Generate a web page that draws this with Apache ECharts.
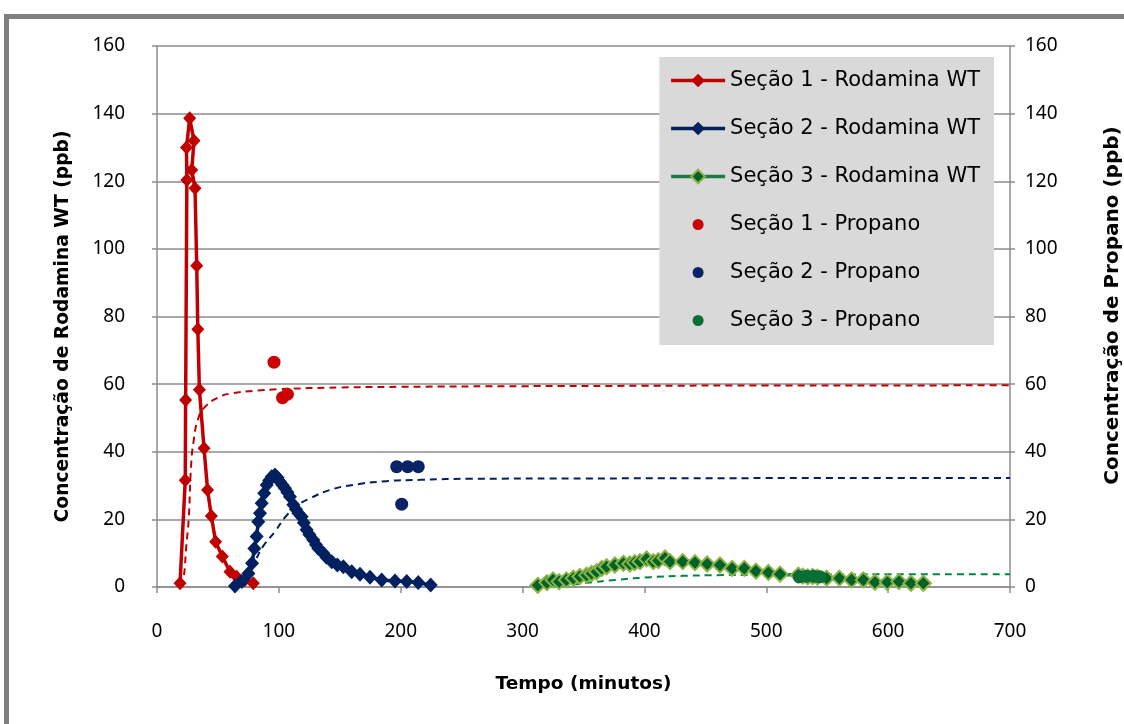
<!DOCTYPE html>
<html><head><meta charset="utf-8">
<script src="https://cdn.jsdelivr.net/npm/echarts@6/dist/echarts.min.js"></script>
<style>html,body{margin:0;padding:0;background:#fff}#c{width:1124px;height:724px}</style>
</head><body><div id="c"></div>
<script>
// Seção 1 - Rodamina WT [tempo (min), ppb]
const sec1Rod = [[18.9,1.1],[23.2,31.6],[23.5,55.3],[24.5,120.4],[24.2,130],[26.8,138.6],[30.4,132],[28.5,123.3],[31.2,117.9],[32.6,95],[33.5,76.2],[34.8,58.3],[38.6,41],[41.5,28.7],[44.6,21],[48.1,13.4],[53.6,9],[59.9,4.5],[65.4,3],[72,2],[79,1.1]];
// Seção 2 - Rodamina WT
const sec2Rod = [[64,0.3],[69.5,1.6],[75,4],[78,7],[79.9,11.4],[81.8,14.9],[83.1,19.3],[84.5,21.8],[85.9,24.8],[88,27.7],[90,30.2],[92,31.5],[94.1,32.6],[96.8,33.1],[99,32.3],[100.9,31.1],[103,30.2],[105,29.2],[107,28],[109.1,26.7],[111.9,24.3],[114,23],[116,21.8],[118.7,20.8],[120.5,19],[122.8,16.9],[125,15.5],[128.3,13.9],[130.5,12.5],[132.4,11.4],[136.5,10],[139,8.8],[143.4,7.5],[148,6.5],[152.9,6],[159.8,4.5],[166.6,3.8],[174.8,2.9],[184.4,2.1],[195.3,1.8],[204.9,1.6],[214.4,1.3],[224.6,0.6]];
// Seção 3 - Rodamina WT
const sec3Rod = [[312.5,0.5],[320,1.3],[325,2.1],[330,1.6],[336,2.1],[341.6,2.6],[347,3.1],[352.6,3.5],[356.7,4],[360.8,4.5],[365,5.5],[369,6],[375.8,6.5],[382.7,7],[388,6.8],[392,7.2],[396.4,7.5],[401.8,8.3],[407.3,7.5],[411.4,7.8],[416.9,8.6],[421,7.5],[431.4,7.5],[441.5,7.2],[451.5,6.8],[462,6.5],[472,5.5],[482,5.5],[491.5,4.7],[501.7,4.3],[511.3,3.8],[526.3,3.5],[530,3.2],[534,3],[538,3.1],[542,2.9],[549.5,2.6],[560,2.6],[570,2.1],[579.7,2.1],[589.2,1.4],[599.3,1.4],[608.9,1.6],[618.7,1.1],[628.9,1.1]];
// Propano
const sec1Prop = [[96,66.5],[103,56],[107,57]];
const sec2Prop = [[196.7,35.6],[200.8,24.5],[205.7,35.6],[214.4,35.6]];
const sec3Prop = [[527,3],[533,3.2],[539,3.2],[544,3]];
// Ajustes (linhas tracejadas)
const sec1Fit = [[20,0],[22,3],[24,12],[26,20],[28,36],[30,43],[34,50],[40,53.5],[50,56],[60,57.2],[80,58],[100,58.5],[150,59],[200,59.2],[300,59.4],[400,59.5],[500,59.6],[600,59.6],[700,59.7]];
const sec2Fit = [[64,0],[70,2.5],[75,5],[80,7.5],[87,12],[97,16.5],[106,21],[116,24.3],[126,26.3],[142,28.7],[161,30.2],[188,31.3],[216,31.7],[257,32],[350,32.1],[500,32.2],[700,32.2]];
const sec3Fit = [[312,0],[330,0.3],[350,1.1],[377,2.1],[405,2.9],[432,3.3],[460,3.5],[500,3.6],[550,3.7],[600,3.75],[700,3.8]];

const names = ['Seção 1 - Rodamina WT','Seção 2 - Rodamina WT','Seção 3 - Rodamina WT','Seção 1 - Propano','Seção 2 - Propano','Seção 3 - Propano'];
const xTicks = {min:0, max:700, interval:100};
const yTicks = {min:0, max:160, interval:20};

const FONT = 'Noto Sans';
const TFONT = 'DejaVu Sans';
const RED = '#C00000', BLUE = '#002060', GREEN = '#00612A', GREEN_B = '#8DB345', GREEN_L = '#1D7A45';
const DOT = 'path://M0,0M17,17M3,8.5a5.5,5.5 0 1,0 11,0a5.5,5.5 0 1,0 -11,0z';

const chart = echarts.init(document.getElementById('c'));
const gridLine = {show:true, lineStyle:{color:'#8C8C8C', width:1.5}};
const axLine = {show:true, lineStyle:{color:'#8C8C8C', width:1.5}};
chart.setOption({
  animation:false,
  textStyle:{fontFamily:FONT},
  graphic:[
    {type:'rect', shape:{x:6.5, y:16.5, width:1300, height:900}, style:{fill:null, stroke:'#7F7F7F', lineWidth:5}, z:-10},
    // legend icon decoration for "Seção 3 - Rodamina WT" (line + bordered diamond)
    {type:'group', z:10, children:[
      {type:'line', shape:{x1:670, y1:175.5, x2:723, y2:175.5}, style:{stroke:GREEN_L, lineWidth:3.5}},
      {type:'polygon', shape:{points:[[696.5,168.7],[703.3,175.5],[696.5,182.3],[689.7,175.5]]}, style:{fill:GREEN, stroke:GREEN_B, lineWidth:2}}
    ]}
  ],
  grid:{left:157, right:114, top:46, bottom:137, outerBoundsMode:'none', containLabel:false},
  legend:{
    orient:'vertical', right:130, top:57,
    backgroundColor:'#D9D9D9', padding:[13,14,14,10],
    itemWidth:54, itemHeight:17, itemGap:27,
    lineStyle:{width:3.5},
    textStyle:{fontSize:21, color:'#000', fontFamily:TFONT},
    data:[names[0],names[1],names[2],
      {name:names[3], icon:DOT},{name:names[4], icon:DOT},{name:names[5], icon:DOT}]
  },
  xAxis:{type:'value', min:xTicks.min, max:xTicks.max, interval:xTicks.interval,
    name:'Tempo (minutos)', nameLocation:'middle', nameGap:88,
    nameTextStyle:{fontSize:18.5, fontWeight:'bold', color:'#000', fontFamily:TFONT},
    axisLine:axLine, axisTick:{show:true, length:6, lineStyle:{color:'#8C8C8C', width:1.5}},
    axisLabel:{fontSize:19, color:'#000', margin:35},
    splitLine:{show:false}},
  yAxis:[
    {type:'value', min:yTicks.min, max:yTicks.max, interval:yTicks.interval, position:'left',
     name:'Concentração de Rodamina WT (ppb)', nameLocation:'middle', nameGap:84, nameRotate:90,
     nameTextStyle:{fontSize:18.7, fontWeight:'bold', color:'#000', fontFamily:TFONT, padding:[0,20,0,0]},
     axisLine:axLine, axisTick:{show:true, length:5, lineStyle:{color:'#8C8C8C', width:1.5}},
     axisLabel:{fontSize:19, color:'#000', margin:32}, splitLine:gridLine},
    {type:'value', min:yTicks.min, max:yTicks.max, interval:yTicks.interval, position:'right',
     name:'Concentração de Propano (ppb)', nameLocation:'middle', nameGap:93, nameRotate:90,
     nameTextStyle:{fontSize:20, fontWeight:'bold', color:'#000', fontFamily:TFONT, padding:[0,0,0,22]},
     axisLine:axLine, axisTick:{show:true, length:5, lineStyle:{color:'#8C8C8C', width:1.5}},
     axisLabel:{fontSize:19, color:'#000', margin:15}, splitLine:{show:false}}
  ],
  series:[
    {name:'fit1', type:'line', data:sec1Fit, symbol:'none', smooth:true, lineStyle:{color:RED, width:2, type:[7,5]}, z:1, silent:true},
    {name:'fit2', type:'line', data:sec2Fit, symbol:'none', smooth:true, lineStyle:{color:BLUE, width:2, type:[7,5]}, z:1, silent:true},
    {name:'fit3', type:'line', data:sec3Fit, symbol:'none', smooth:true, lineStyle:{color:'#00873F', width:2, type:[7,5]}, z:1, silent:true},
    {name:names[0], type:'line', data:sec1Rod, symbol:'diamond', symbolSize:[13,14], color:RED,
     lineStyle:{color:RED, width:3.5}, itemStyle:{color:RED}, z:3},
    {name:names[1], type:'line', data:sec2Rod, symbol:'diamond', symbolSize:[14,15], color:BLUE,
     lineStyle:{color:BLUE, width:3.5}, itemStyle:{color:BLUE}, z:4},
    {name:names[2], type:'line', data:sec3Rod, symbol:'diamond', symbolSize:[15,15], color:GREEN,
     lineStyle:{color:GREEN_L, width:3.5}, itemStyle:{color:GREEN, borderColor:GREEN_B, borderWidth:2}, z:3},
    {name:names[3], type:'scatter', yAxisIndex:1, data:sec1Prop, symbol:'circle', symbolSize:13, itemStyle:{color:'#CC0000', opacity:1}, z:5},
    {name:names[4], type:'scatter', yAxisIndex:1, data:sec2Prop, symbol:'circle', symbolSize:13, itemStyle:{color:'#0A2366', opacity:1}, z:5},
    {name:names[5], type:'scatter', yAxisIndex:1, data:sec3Prop, symbol:'circle', symbolSize:13, itemStyle:{color:'#0B6E34', opacity:1}, z:5}
  ]
});
</script></body></html>
